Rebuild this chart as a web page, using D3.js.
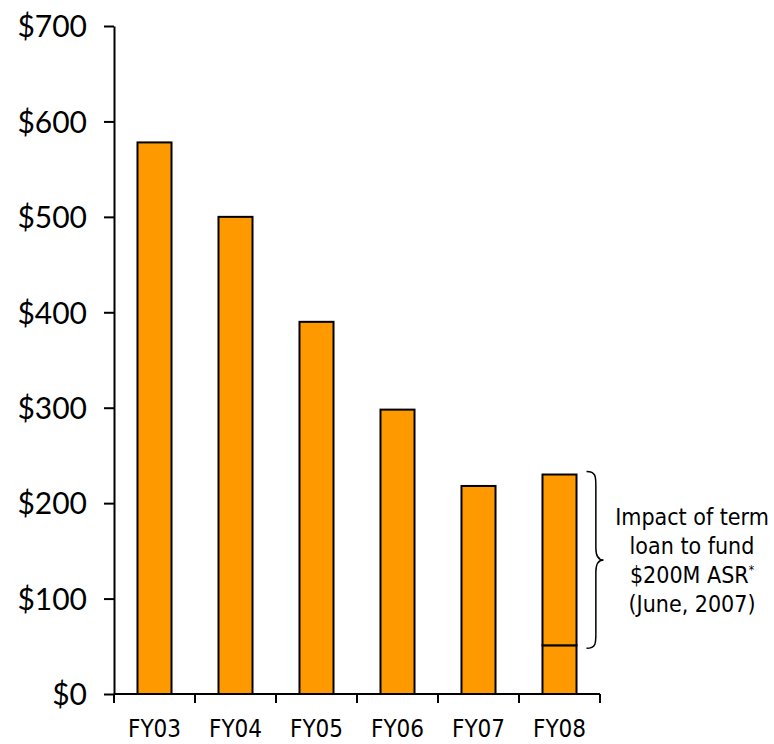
<!DOCTYPE html>
<html>
<head>
<meta charset="utf-8">
<script src="https://cdn.jsdelivr.net/npm/d3@7"></script>
<style>
  body { margin: 0; background: #fff; }
  .ylab text { font-family: Lato, "Liberation Sans", sans-serif; font-size: 30px; fill: #000; }
  .xlab { font-family: "DejaVu Sans Condensed", "DejaVu Sans", sans-serif; font-size: 24px; fill: #000; }
  .note { font-family: "DejaVu Sans Condensed", "DejaVu Sans", sans-serif; font-size: 23px; fill: #000; }
</style>
</head>
<body>
<div id="chart"></div>
<script>
// chart data
var categories = ["FY03", "FY04", "FY05", "FY06", "FY07", "FY08"];
var baseDebt = [578, 500, 390, 298, 218, 51];   // bottom segment
var asrLoan = [0, 0, 0, 0, 0, 179];             // term loan for the ASR (FY08 only)
var yTicks = [0, 100, 200, 300, 400, 500, 600, 700];
var noteLines = ["Impact of term", "loan to fund", "$200M ASR", "(June, 2007)"];

var width = 774, height = 744;
var margin = { top: 26, right: 174, bottom: 50, left: 114 };

var svg = d3.select("#chart").append("svg")
    .attr("width", width)
    .attr("height", height);

var x = d3.scaleBand()
    .domain(categories)
    .range([margin.left, width - margin.right])
    .paddingInner(0.58)
    .paddingOuter(0.29);

var y = d3.scaleLinear()
    .domain([0, 700])
    .range([height - margin.bottom, margin.top]);

// stack the two pieces
var rows = categories.map(function(c, i) {
  return { cat: c, base: baseDebt[i], loan: asrLoan[i] };
});
var stack = d3.stack().keys(["base", "loan"])(rows);

svg.append("g").selectAll("g")
  .data(stack)
  .join("g")
  .selectAll("rect")
  .data(function(s) { return s.filter(function(d) { return d[1] > d[0]; }); })
  .join("rect")
    .attr("x", function(d) { return x(d.data.cat); })
    .attr("y", function(d) { return y(d[1]); })
    .attr("width", x.bandwidth())
    .attr("height", function(d) { return y(d[0]) - y(d[1]); })
    .attr("fill", "#FF9900")
    .attr("stroke", "#000")
    .attr("stroke-width", 2);

// y axis
var yAxis = svg.append("g")
    .attr("class", "ylab")
    .attr("transform", "translate(" + margin.left + ",0)")
    .call(d3.axisLeft(y).tickValues(yTicks).tickSize(10).tickSizeOuter(0).tickPadding(17)
      .tickFormat(function(d) { return "$" + d; }));
yAxis.selectAll("path, line").attr("stroke", "#000").attr("stroke-width", 2);
yAxis.selectAll("text").attr("dy", "0.36em");

// x axis: baseline, boundary ticks, labels
var base = y(0);
var step = x.step();
var bounds = d3.range(categories.length + 1).map(function(i) { return margin.left + i * step; });

svg.append("line")
    .attr("x1", margin.left).attr("x2", bounds[bounds.length - 1])
    .attr("y1", base).attr("y2", base)
    .attr("stroke", "#000").attr("stroke-width", 2);

svg.append("g").selectAll("line")
  .data(bounds)
  .join("line")
    .attr("x1", function(d) { return d; }).attr("x2", function(d) { return d; })
    .attr("y1", base).attr("y2", base + 9)
    .attr("stroke", "#000").attr("stroke-width", 2);

svg.append("g").selectAll("text")
  .data(categories)
  .join("text")
    .attr("class", "xlab")
    .attr("x", function(d) { return x(d) + x.bandwidth() / 2; })
    .attr("y", base + 43)
    .attr("text-anchor", "middle")
    .text(function(d) { return d; });

// curly brace beside the FY08 bar
var last = categories[categories.length - 1];
var bx = x(last) + x.bandwidth() + 10;
var bTop = y(baseDebt[5] + asrLoan[5]) - 3;
var bBot = y(baseDebt[5]) + 3;
var mid = (bTop + bBot) / 2;
var w = 17;
var brace = "M" + bx + "," + bTop +
  " C" + (bx + w * 0.6) + "," + bTop + " " + (bx + w * 0.55) + "," + (bTop + 6) + " " + (bx + w * 0.55) + "," + (bTop + 18) +
  " L" + (bx + w * 0.55) + "," + (mid - 12) +
  " C" + (bx + w * 0.55) + "," + (mid - 3) + " " + (bx + w * 0.75) + "," + mid + " " + (bx + w) + "," + mid +
  " C" + (bx + w * 0.75) + "," + mid + " " + (bx + w * 0.55) + "," + (mid + 3) + " " + (bx + w * 0.55) + "," + (mid + 12) +
  " L" + (bx + w * 0.55) + "," + (bBot - 18) +
  " C" + (bx + w * 0.55) + "," + (bBot - 6) + " " + (bx + w * 0.6) + "," + bBot + " " + bx + "," + bBot;
svg.append("path")
    .attr("d", brace)
    .attr("fill", "none")
    .attr("stroke", "#000")
    .attr("stroke-width", 1.5);

// annotation
var note = svg.append("text")
    .attr("class", "note")
    .attr("text-anchor", "middle");
noteLines.forEach(function(t, i) {
  note.append("tspan")
      .attr("x", 692)
      .attr("y", 525 + i * 29)
      .text(t);
  if (i === 2) {
    note.append("tspan").attr("dy", -9).attr("font-size", "12px").text("*");
  }
});
</script>
</body>
</html>
